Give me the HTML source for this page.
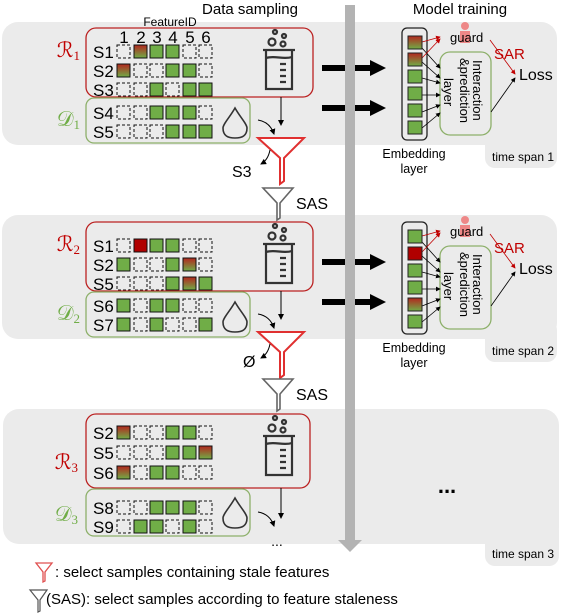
<!DOCTYPE html>
<html><head><meta charset="utf-8"><style>
body{margin:0;background:#fff}
svg{display:block;font-family:"Liberation Sans",sans-serif}
</style></head><body>
<svg width="563" height="614" viewBox="0 0 563 614" xmlns="http://www.w3.org/2000/svg">
<defs>
<linearGradient id="gr" x1="0" y1="0" x2="0" y2="1"><stop offset="0" stop-color="#b3261e"/><stop offset="1" stop-color="#70ad47"/></linearGradient>
<marker id="ah" markerWidth="6" markerHeight="6" refX="5" refY="3" orient="auto"><path d="M0,0 L6,3 L0,6Z" fill="#000"/></marker>
<marker id="ahr" markerWidth="6" markerHeight="6" refX="5" refY="3" orient="auto"><path d="M0,0 L6,3 L0,6Z" fill="#c00000"/></marker>
<g id="beaker" fill="none" stroke="#333" stroke-width="2.2">
<circle cx="275" cy="32" r="2"/><circle cx="284" cy="36" r="2"/><circle cx="272" cy="42" r="3.5"/><circle cx="283" cy="44" r="2.5"/>
<path d="M263 50 L295 50 M266 50 L266 89 L292 89 L292 50"/>
<path d="M266 58 C275 55 283 60 292 57"/>
<path d="M280 64h6M280 70h6M280 76h6M280 82h6"/>
</g>
<path id="rfun" d="M258 138 L304 138 L284 158 L284 181 L280 184 L280 158 Z" fill="#fff" stroke="#e03030" stroke-width="2"/>
<path id="gfun" d="M263 188 L293 188 L280 203 L280 218 L277 220 L277 203 Z" fill="#fff" stroke="#666" stroke-width="1.6"/>
</defs>

<g fill="#ebebeb">
<rect x="2" y="22" width="555" height="123" rx="16"/><rect x="485" y="120" width="72" height="48" rx="10"/>
<rect x="2" y="215" width="555" height="124" rx="16"/><rect x="485" y="320" width="72" height="42" rx="10"/>
<rect x="3" y="409" width="556" height="135" rx="16"/><rect x="485" y="520" width="74" height="46" rx="10"/>
</g>

<text x="250" y="14" font-size="15" text-anchor="middle">Data sampling</text>
<text x="460" y="14" font-size="15" text-anchor="middle">Model training</text>
<text x="170" y="26" font-size="12" text-anchor="middle">FeatureID</text>
<g font-size="17" text-anchor="middle"><text x="124" y="43">1</text><text x="141" y="43">2</text><text x="157" y="43">3</text><text x="173" y="43">4</text><text x="190" y="43">5</text><text x="206" y="43">6</text></g>

<g id="p1">
<rect x="86" y="28" width="227" height="69" rx="10" fill="none" stroke="#b22" stroke-width="1.3"/>
<rect x="86" y="98" width="164" height="45" rx="8" fill="none" stroke="#8db06a" stroke-width="1.3"/>
<use href="#beaker"/>
<line x1="281" y1="97" x2="281" y2="125" stroke="#000" marker-end="url(#ah)"/>
<path d="M258 120 Q270 122 274 134" fill="none" stroke="#000" marker-end="url(#ah)"/>
<use href="#rfun"/>
<path d="M270 150 Q268 160 261 164" fill="none" stroke="#000" marker-end="url(#ah)"/>
</g>
<path d="M235 108 C230 117 223 124 223 128 C223 136 228 138 235 138 C242 138 247 136 247 128 C247 124 240 117 235 108Z" fill="#ebebeb" stroke="#333" stroke-width="1.6"/>
<path d="M235 302 C230 311 223 318 223 322 C223 330 228 332 235 332 C242 332 247 330 247 322 C247 318 240 311 235 302Z" fill="#ebebeb" stroke="#333" stroke-width="1.6"/>
<path d="M235 498 C230 507 223 514 223 518 C223 526 228 528 235 528 C242 528 247 526 247 518 C247 514 240 507 235 498Z" fill="#ebebeb" stroke="#333" stroke-width="1.6"/>
<g font-size="17">
<text x="80" y="57" text-anchor="end" fill="#c00000" font-family="Liberation Serif,serif" font-size="21">ℛ<tspan font-size="13" dy="3">1</tspan></text>
<text x="80" y="126" text-anchor="end" fill="#70ad47" font-family="Liberation Serif,serif" font-size="21">𝒟<tspan font-size="13" dy="3">1</tspan></text>
<text x="93" y="58">S1</text><text x="93" y="77">S2</text><text x="93" y="96">S3</text><text x="93" y="119">S4</text><text x="93" y="138">S5</text>
<text x="232" y="177" font-size="16">S3</text>
</g>
<use href="#gfun"/><text x="296" y="209" font-size="16">SAS</text>

<g stroke="#111" stroke-width="1">
<g transform="translate(0,45)"><rect x="117" width="13" height="13" fill="none" stroke-dasharray="3,2"/><rect x="134" width="13" height="13" fill="url(#gr)"/><rect x="150" width="13" height="13" fill="#70ad47"/><rect x="166" width="13" height="13" fill="#70ad47"/><rect x="183" width="13" height="13" fill="none" stroke-dasharray="3,2"/><rect x="199" width="13" height="13" fill="none" stroke-dasharray="3,2"/></g>
<g transform="translate(0,64)"><rect x="117" width="13" height="13" fill="url(#gr)"/><rect x="134" width="13" height="13" fill="none" stroke-dasharray="3,2"/><rect x="150" width="13" height="13" fill="none" stroke-dasharray="3,2"/><rect x="166" width="13" height="13" fill="#70ad47"/><rect x="183" width="13" height="13" fill="#70ad47"/><rect x="199" width="13" height="13" fill="none" stroke-dasharray="3,2"/></g>
<g transform="translate(0,83)"><rect x="117" width="13" height="13" fill="none" stroke-dasharray="3,2"/><rect x="134" width="13" height="13" fill="none" stroke-dasharray="3,2"/><rect x="150" width="13" height="13" fill="#70ad47"/><rect x="166" width="13" height="13" fill="none" stroke-dasharray="3,2"/><rect x="183" width="13" height="13" fill="#70ad47"/><rect x="199" width="13" height="13" fill="#70ad47"/></g>
<g transform="translate(0,106)"><rect x="117" width="13" height="13" fill="none" stroke-dasharray="3,2"/><rect x="134" width="13" height="13" fill="none" stroke-dasharray="3,2"/><rect x="150" width="13" height="13" fill="#70ad47"/><rect x="166" width="13" height="13" fill="#70ad47"/><rect x="183" width="13" height="13" fill="#70ad47"/><rect x="199" width="13" height="13" fill="none" stroke-dasharray="3,2"/></g>
<g transform="translate(0,125)"><rect x="117" width="13" height="13" fill="none" stroke-dasharray="3,2"/><rect x="134" width="13" height="13" fill="none" stroke-dasharray="3,2"/><rect x="150" width="13" height="13" fill="none" stroke-dasharray="3,2"/><rect x="166" width="13" height="13" fill="#70ad47"/><rect x="183" width="13" height="13" fill="#70ad47"/><rect x="199" width="13" height="13" fill="#70ad47"/></g>
<g transform="translate(0,239)"><rect x="117" width="13" height="13" fill="none" stroke-dasharray="3,2"/><rect x="134" width="13" height="13" fill="#b00000"/><rect x="150" width="13" height="13" fill="#70ad47"/><rect x="166" width="13" height="13" fill="#70ad47"/><rect x="183" width="13" height="13" fill="none" stroke-dasharray="3,2"/><rect x="199" width="13" height="13" fill="none" stroke-dasharray="3,2"/></g>
<g transform="translate(0,258)"><rect x="117" width="13" height="13" fill="#70ad47"/><rect x="134" width="13" height="13" fill="none" stroke-dasharray="3,2"/><rect x="150" width="13" height="13" fill="none" stroke-dasharray="3,2"/><rect x="166" width="13" height="13" fill="#70ad47"/><rect x="183" width="13" height="13" fill="url(#gr)"/><rect x="199" width="13" height="13" fill="none" stroke-dasharray="3,2"/></g>
<g transform="translate(0,277)"><rect x="117" width="13" height="13" fill="none" stroke-dasharray="3,2"/><rect x="134" width="13" height="13" fill="none" stroke-dasharray="3,2"/><rect x="150" width="13" height="13" fill="none" stroke-dasharray="3,2"/><rect x="166" width="13" height="13" fill="#70ad47"/><rect x="183" width="13" height="13" fill="url(#gr)"/><rect x="199" width="13" height="13" fill="#70ad47"/></g>
<g transform="translate(0,299)"><rect x="117" width="13" height="13" fill="#70ad47"/><rect x="134" width="13" height="13" fill="none" stroke-dasharray="3,2"/><rect x="150" width="13" height="13" fill="#70ad47"/><rect x="166" width="13" height="13" fill="#70ad47"/><rect x="183" width="13" height="13" fill="none" stroke-dasharray="3,2"/><rect x="199" width="13" height="13" fill="none" stroke-dasharray="3,2"/></g>
<g transform="translate(0,318)"><rect x="117" width="13" height="13" fill="#70ad47"/><rect x="134" width="13" height="13" fill="none" stroke-dasharray="3,2"/><rect x="150" width="13" height="13" fill="#70ad47"/><rect x="166" width="13" height="13" fill="none" stroke-dasharray="3,2"/><rect x="183" width="13" height="13" fill="none" stroke-dasharray="3,2"/><rect x="199" width="13" height="13" fill="#70ad47"/></g>
<g transform="translate(0,426)"><rect x="117" width="13" height="13" fill="url(#gr)"/><rect x="134" width="13" height="13" fill="none" stroke-dasharray="3,2"/><rect x="150" width="13" height="13" fill="none" stroke-dasharray="3,2"/><rect x="166" width="13" height="13" fill="#70ad47"/><rect x="183" width="13" height="13" fill="#70ad47"/><rect x="199" width="13" height="13" fill="none" stroke-dasharray="3,2"/></g>
<g transform="translate(0,446)"><rect x="117" width="13" height="13" fill="none" stroke-dasharray="3,2"/><rect x="134" width="13" height="13" fill="none" stroke-dasharray="3,2"/><rect x="150" width="13" height="13" fill="none" stroke-dasharray="3,2"/><rect x="166" width="13" height="13" fill="#70ad47"/><rect x="183" width="13" height="13" fill="#70ad47"/><rect x="199" width="13" height="13" fill="url(#gr)"/></g>
<g transform="translate(0,466)"><rect x="117" width="13" height="13" fill="url(#gr)"/><rect x="134" width="13" height="13" fill="none" stroke-dasharray="3,2"/><rect x="150" width="13" height="13" fill="#70ad47"/><rect x="166" width="13" height="13" fill="#70ad47"/><rect x="183" width="13" height="13" fill="none" stroke-dasharray="3,2"/><rect x="199" width="13" height="13" fill="none" stroke-dasharray="3,2"/></g>
<g transform="translate(0,501)"><rect x="117" width="13" height="13" fill="none" stroke-dasharray="3,2"/><rect x="134" width="13" height="13" fill="none" stroke-dasharray="3,2"/><rect x="150" width="13" height="13" fill="#70ad47"/><rect x="166" width="13" height="13" fill="#70ad47"/><rect x="183" width="13" height="13" fill="#70ad47"/><rect x="199" width="13" height="13" fill="none" stroke-dasharray="3,2"/></g>
<g transform="translate(0,520)"><rect x="117" width="13" height="13" fill="none" stroke-dasharray="3,2"/><rect x="134" width="13" height="13" fill="#70ad47"/><rect x="150" width="13" height="13" fill="#70ad47"/><rect x="166" width="13" height="13" fill="none" stroke-dasharray="3,2"/><rect x="183" width="13" height="13" fill="#70ad47"/><rect x="199" width="13" height="13" fill="none" stroke-dasharray="3,2"/></g>
</g>

<use href="#p1" transform="translate(0,194)"/>
<g font-size="17">
<text x="80" y="251" text-anchor="end" fill="#c00000" font-family="Liberation Serif,serif" font-size="21">ℛ<tspan font-size="13" dy="3">2</tspan></text>
<text x="80" y="320" text-anchor="end" fill="#70ad47" font-family="Liberation Serif,serif" font-size="21">𝒟<tspan font-size="13" dy="3">2</tspan></text>
<text x="93" y="252">S1</text><text x="93" y="271">S2</text><text x="93" y="290">S5</text><text x="93" y="312">S6</text><text x="93" y="331">S7</text>
<text x="243" y="367" font-size="16">Ø</text>
</g>
<use href="#gfun" transform="translate(0,191)"/><text x="296" y="400" font-size="16">SAS</text>

<g transform="translate(0,386)">
<rect x="86" y="28" width="224" height="74" rx="10" fill="none" stroke="#b22" stroke-width="1.3"/>
<rect x="86" y="103" width="164" height="47" rx="8" fill="none" stroke="#8db06a" stroke-width="1.3"/>
<use href="#beaker"/>
<line x1="281" y1="102" x2="281" y2="132" stroke="#000" marker-end="url(#ah)"/>
<path d="M258 126 Q270 128 274 140" fill="none" stroke="#000" marker-end="url(#ah)"/>
<text x="277" y="160" font-size="14" text-anchor="middle">...</text>
</g>
<g font-size="17">
<text x="78" y="469" text-anchor="end" fill="#c00000" font-family="Liberation Serif,serif" font-size="21">ℛ<tspan font-size="13" dy="3">3</tspan></text>
<text x="78" y="521" text-anchor="end" fill="#70ad47" font-family="Liberation Serif,serif" font-size="21">𝒟<tspan font-size="13" dy="3">3</tspan></text>
<text x="93" y="439">S2</text><text x="93" y="459">S5</text><text x="93" y="479">S6</text><text x="93" y="514">S8</text><text x="93" y="533">S9</text>
</g>
<text x="447" y="493" font-size="22" font-weight="bold" text-anchor="middle">...</text>

<g id="m1">
<path d="M322 68 H372 M322 108 H372" stroke="#000" stroke-width="6"/>
<path d="M370 60 L386 68 L370 76Z M370 100 L386 108 L370 116Z" fill="#000"/>
<rect x="402" y="28" width="25" height="112" rx="5" fill="none" stroke="#222" stroke-width="1.3"/>
<rect x="440" y="52" width="51" height="83" rx="10" fill="#ebebeb" stroke="#8db06a" stroke-width="1.3"/>
<text transform="translate(473,60) rotate(90)" font-size="13">Interaction</text>
<text transform="translate(460,58) rotate(90)" font-size="13">&amp;prediction</text>
<text transform="translate(444,78) rotate(90)" font-size="13">layer</text>
<g fill="#e88"><circle cx="465" cy="26" r="4"/><rect x="460" y="31" width="10" height="12"/></g>
<text x="450" y="42" font-size="13">guard</text>
<text x="494" y="59" font-size="15" fill="#c00000">SAR</text>
<text x="519" y="80" font-size="16">Loss</text>
<line x1="490" y1="40" x2="515" y2="74" stroke="#c00000" stroke-width="0.8" marker-end="url(#ahr)"/>
<line x1="491" y1="112" x2="515" y2="78" stroke="#000" stroke-width="0.8" marker-end="url(#ah)"/>
<g stroke="#000" stroke-width="0.8" marker-end="url(#ah)">
<line x1="422" y1="48" x2="440" y2="68"/><line x1="422" y1="62" x2="440" y2="78"/><line x1="422" y1="78" x2="440" y2="83"/><line x1="422" y1="95" x2="440" y2="95"/><line x1="422" y1="112" x2="440" y2="105"/><line x1="422" y1="128" x2="440" y2="113"/>
</g>
<g stroke="#c00000" stroke-width="0.8" marker-end="url(#ahr)"><line x1="422" y1="42" x2="440" y2="37"/><line x1="422" y1="58" x2="440" y2="39"/></g>
<text x="414" y="158" font-size="12.5" text-anchor="middle">Embedding</text>
<text x="414" y="173" font-size="12.5" text-anchor="middle">layer</text>
</g>
<use href="#m1" transform="translate(0,194)"/>
<g stroke="#222">
<rect x="408" y="36" width="14" height="13" fill="url(#gr)"/><rect x="408" y="53" width="14" height="13" fill="url(#gr)"/><rect x="408" y="70" width="14" height="13" fill="#70ad47"/><rect x="408" y="87" width="14" height="13" fill="#70ad47"/><rect x="408" y="104" width="14" height="13" fill="#70ad47"/><rect x="408" y="121" width="14" height="13" fill="#70ad47"/>
<rect x="408" y="230" width="14" height="13" fill="#70ad47"/><rect x="408" y="247" width="14" height="13" fill="#b00000"/><rect x="408" y="264" width="14" height="13" fill="#70ad47"/><rect x="408" y="281" width="14" height="13" fill="#70ad47"/><rect x="408" y="298" width="14" height="13" fill="url(#gr)"/><rect x="408" y="315" width="14" height="13" fill="#70ad47"/>
</g>
<g font-size="12"><text x="492" y="161">time span 1</text><text x="492" y="355">time span 2</text><text x="492" y="558">time span 3</text></g>

<rect x="345" y="5" width="10" height="537" fill="#b3b3b3"/>
<path d="M338 540 L362 540 L350 552Z" fill="#b3b3b3"/>

<path d="M36 563 L52 563 L45 572 L45 581 L43 582 L43 572Z" fill="#fff" stroke="#e05050" stroke-width="1.3"/>
<text x="55" y="577" font-size="15">: select samples containing stale features</text>
<path d="M30 590 L47 590 L40 600 L40 611 L38 612 L38 600Z" fill="#fff" stroke="#555" stroke-width="1.2"/>
<text x="46" y="604" font-size="15">(SAS): select samples according to feature staleness</text>
</svg>
</body></html>
